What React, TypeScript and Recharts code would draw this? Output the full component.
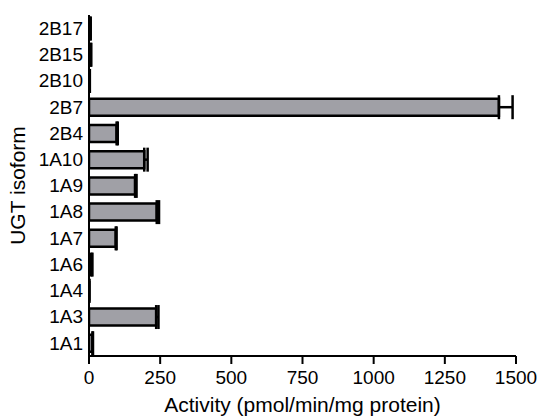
import React from "react";
import { BarChart, Bar, XAxis, YAxis, ErrorBar } from "recharts";

const isoforms = ["2B17", "2B15", "2B10", "2B7", "2B4", "1A10", "1A9", "1A8", "1A7", "1A6", "1A4", "1A3", "1A1"];
const activity = [4, 6, 2, 1440, 97, 194, 162, 238, 94, 8, 1, 236, 12];
const sem = [2, 2, 1, 48, 4, 12, 5, 8, 3, 4, 0, 8, 2];
const xTicks = [0, 250, 500, 750, 1000, 1250, 1500];

const data = isoforms.map((name, i) => ({
  name,
  value: activity[i],
  err: [0, sem[i]],
}));

const font = "'Liberation Sans', Arial, sans-serif";

const XTitle = (props: any) => {
  const vb = props.viewBox || {};
  return (
    <text x={vb.x + vb.width / 2} y={412} textAnchor="middle" fill="#000" fontSize={21} fontFamily={font}>
      Activity (pmol/min/mg protein)
    </text>
  );
};

const YTitle = (props: any) => {
  const vb = props.viewBox || {};
  const cy = vb.y + vb.height / 2;
  return (
    <text x={25} y={cy} transform={`rotate(-90 25 ${cy})`} textAnchor="middle" fill="#000" fontSize={21} fontFamily={font}>
      UGT isoform
    </text>
  );
};

export default function App() {
  return (
    <div style={{ position: "absolute", left: 0, top: 0, fontFamily: font }}>
      <BarChart
        width={540}
        height={417}
        data={data}
        layout="vertical"
        margin={{ top: 15, right: 24, bottom: 0, left: 0 }}
        barSize={17}
      >
        <XAxis
          type="number"
          domain={[0, 1500]}
          ticks={xTicks}
          interval={0}
          allowDataOverflow
          height={61}
          axisLine={{ stroke: "#000", strokeWidth: 2 }}
          tickLine={{ stroke: "#000", strokeWidth: 2 }}
          tickSize={8}
          tickMargin={7}
          tick={{ fill: "#000", fontSize: 19, fontFamily: font }}
          label={<XTitle />}
        />
        <YAxis
          type="category"
          dataKey="name"
          width={89}
          interval={0}
          axisLine={{ stroke: "#000", strokeWidth: 2 }}
          tickLine={false}
          tickSize={0}
          tickMargin={6}
          tick={{ fill: "#000", fontSize: 19, fontFamily: font }}
          label={<YTitle />}
        />
        <Bar dataKey="value" fill="#a0a0a6" stroke="#000" strokeWidth={2.5} isAnimationActive={false}>
          <ErrorBar dataKey="err" direction="x" width={12} stroke="#000" strokeWidth={2.5} />
        </Bar>
      </BarChart>
    </div>
  );
}
